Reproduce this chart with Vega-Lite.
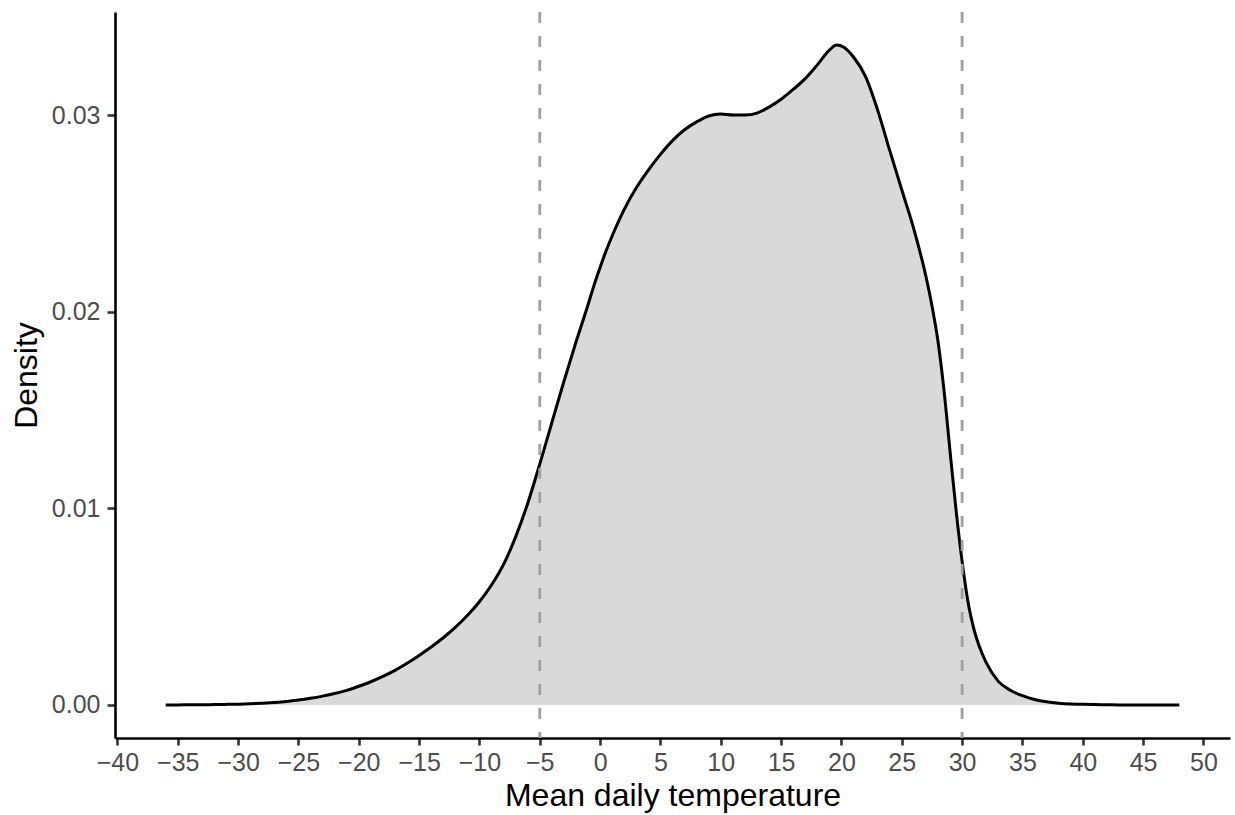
{
  "$schema": "https://vega.github.io/schema/vega-lite/v6.json",
  "autosize": {"type": "none"},
  "padding": {"left": 115, "top": 12, "right": 5, "bottom": 77},
  "width": 1115,
  "height": 726,
  "background": "white",
  "config": {
    "view": {"stroke": null},
    "font": "Liberation Sans",
    "axis": {
      "grid": false,
      "domainColor": "black",
      "domainWidth": 2.6,
      "tickColor": "#333333",
      "tickWidth": 2.6,
      "tickSize": 7,
      "labelFont": "Liberation Sans",
      "labelFontSize": 25,
      "labelColor": "#4D4D4D",
      "titleFont": "Liberation Sans",
      "titleFontSize": 32,
      "titleFontWeight": "normal",
      "titleColor": "black"
    }
  },
  "datasets": {
    "density": [
      {"temp": -36, "density": 0.0},
      {"temp": -35, "density": 0.0},
      {"temp": -34, "density": 0.00001},
      {"temp": -33, "density": 0.00001},
      {"temp": -32, "density": 0.00002},
      {"temp": -31, "density": 0.00003},
      {"temp": -30, "density": 0.00004},
      {"temp": -29, "density": 0.00006},
      {"temp": -28, "density": 0.00009},
      {"temp": -27, "density": 0.00013},
      {"temp": -26, "density": 0.00018},
      {"temp": -25, "density": 0.00025},
      {"temp": -24, "density": 0.00034},
      {"temp": -23, "density": 0.00045},
      {"temp": -22, "density": 0.00058},
      {"temp": -21, "density": 0.00074},
      {"temp": -20, "density": 0.00095},
      {"temp": -19, "density": 0.00118},
      {"temp": -18, "density": 0.00145},
      {"temp": -17, "density": 0.00176},
      {"temp": -16, "density": 0.00212},
      {"temp": -15, "density": 0.00252},
      {"temp": -14, "density": 0.00295},
      {"temp": -13, "density": 0.00342},
      {"temp": -12, "density": 0.00395},
      {"temp": -11, "density": 0.00455},
      {"temp": -10, "density": 0.00525},
      {"temp": -9, "density": 0.00610},
      {"temp": -8, "density": 0.00715},
      {"temp": -7, "density": 0.00855},
      {"temp": -6, "density": 0.01025},
      {"temp": -5, "density": 0.01225},
      {"temp": -4, "density": 0.01435},
      {"temp": -3, "density": 0.01645},
      {"temp": -2, "density": 0.01845},
      {"temp": -1, "density": 0.02035},
      {"temp": -0.5, "density": 0.02135},
      {"temp": 0, "density": 0.02225},
      {"temp": 0.5, "density": 0.02310},
      {"temp": 1, "density": 0.02385},
      {"temp": 1.5, "density": 0.02455},
      {"temp": 2, "density": 0.02520},
      {"temp": 3, "density": 0.02630},
      {"temp": 4, "density": 0.02720},
      {"temp": 5, "density": 0.02800},
      {"temp": 6, "density": 0.02870},
      {"temp": 7, "density": 0.02925},
      {"temp": 8, "density": 0.02965},
      {"temp": 9, "density": 0.02995},
      {"temp": 10, "density": 0.03005},
      {"temp": 11, "density": 0.03000},
      {"temp": 12, "density": 0.03000},
      {"temp": 13, "density": 0.03010},
      {"temp": 14, "density": 0.03040},
      {"temp": 15, "density": 0.03080},
      {"temp": 16, "density": 0.03130},
      {"temp": 17, "density": 0.03185},
      {"temp": 18, "density": 0.03255},
      {"temp": 19, "density": 0.03330},
      {"temp": 19.6, "density": 0.03356},
      {"temp": 20.2, "density": 0.03345},
      {"temp": 21, "density": 0.03295},
      {"temp": 22, "density": 0.03195},
      {"temp": 23, "density": 0.03025},
      {"temp": 24, "density": 0.02820},
      {"temp": 25, "density": 0.02620},
      {"temp": 26, "density": 0.02420},
      {"temp": 27, "density": 0.02180},
      {"temp": 27.5, "density": 0.02030},
      {"temp": 28, "density": 0.01850},
      {"temp": 28.5, "density": 0.01600},
      {"temp": 29, "density": 0.01290},
      {"temp": 29.5, "density": 0.00990},
      {"temp": 30, "density": 0.00730},
      {"temp": 30.5, "density": 0.00520},
      {"temp": 31, "density": 0.00380},
      {"temp": 32, "density": 0.00215},
      {"temp": 33, "density": 0.00120},
      {"temp": 34, "density": 0.00075},
      {"temp": 35, "density": 0.00047},
      {"temp": 36, "density": 0.00028},
      {"temp": 37, "density": 0.00016},
      {"temp": 38, "density": 0.00009},
      {"temp": 39, "density": 0.00005},
      {"temp": 40, "density": 0.00003},
      {"temp": 41, "density": 0.00002},
      {"temp": 42, "density": 0.00001},
      {"temp": 43, "density": 0.0},
      {"temp": 44, "density": 0.0},
      {"temp": 45, "density": 0.0},
      {"temp": 46, "density": 0.0},
      {"temp": 47, "density": 0.0},
      {"temp": 48, "density": 0.0}
    ],
    "cutoffs": [
      {"temp": -5},
      {"temp": 30}
    ]
  },
  "layer": [
    {
      "data": {"name": "density"},
      "mark": {"type": "area", "color": "#D9D9D9", "interpolate": "monotone"},
      "encoding": {
        "x": {
          "field": "temp",
          "type": "quantitative",
          "scale": {"domain": [-40.2, 52.2], "nice": false, "zero": false},
          "axis": {
            "title": "Mean daily temperature",
            "values": [-40, -35, -30, -25, -20, -15, -10, -5, 0, 5, 10, 15, 20, 25, 30, 35, 40, 45, 50],
            "labelPadding": 5,
            "titlePadding": 5,
            "labelFlush": false,
            "labelOverlap": false
          }
        },
        "y": {
          "field": "density",
          "type": "quantitative",
          "scale": {"domain": [-0.00168, 0.03524], "nice": false, "zero": false},
          "axis": {
            "title": "Density",
            "values": [0, 0.01, 0.02, 0.03],
            "format": ".2f",
            "tickSize": 8,
            "labelPadding": 7,
            "titlePadding": 8,
            "labelFlush": false
          }
        }
      }
    },
    {
      "data": {"name": "density"},
      "mark": {"type": "line", "color": "black", "strokeWidth": 3, "interpolate": "monotone"},
      "encoding": {
        "x": {"field": "temp", "type": "quantitative"},
        "y": {"field": "density", "type": "quantitative"}
      }
    },
    {
      "data": {"name": "cutoffs"},
      "mark": {"type": "rule", "color": "#A0A0A0", "strokeWidth": 2.8, "strokeDash": [11, 13]},
      "encoding": {
        "x": {"field": "temp", "type": "quantitative"}
      }
    }
  ]
}
